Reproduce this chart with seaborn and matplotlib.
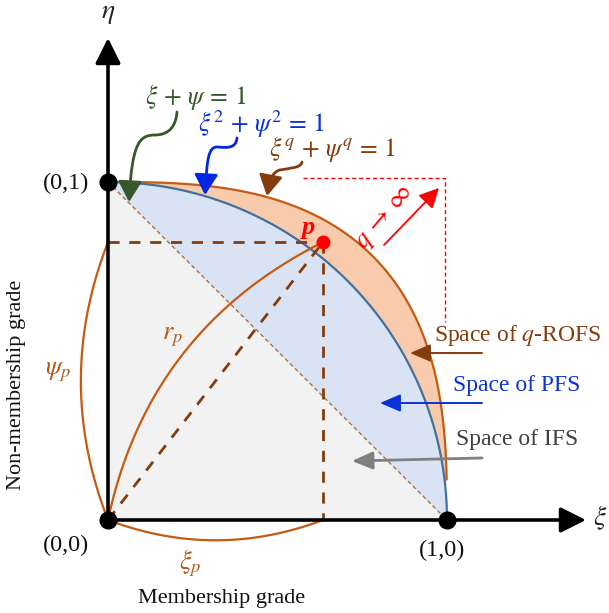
import numpy as np
import matplotlib
matplotlib.use("Agg")
import matplotlib.pyplot as plt
import seaborn as sns
import pandas as pd
from matplotlib.path import Path
from matplotlib.patches import FancyArrowPatch, Polygon

# ---------------- data ----------------
q_value = 2.8                      # exponent of the q-ROFS boundary
p_xi, p_eta = 0.634, 0.822         # membership / non-membership of point p
corner_xi = [0, 1, 0]
corner_eta = [0, 0, 1]
corner_labels = ["(0,0)", "(1,0)", "(0,1)"]
region_labels = ["Space of $q$-ROFS", "Space of PFS", "Space of IFS"]
eq_labels = [r"$\xi\,+\,\psi\,=\,1$", r"$\xi^2\,+\,\psi^2\,=\,1$", r"$\xi^q\,+\,\psi^q\,=\,1$"]
axis_titles = ["Membership grade", "Non-membership grade"]

# ---------------- style ----------------
sns.set_theme(style="white")
plt.rcParams['font.family'] = ['Liberation Serif', 'DejaVu Serif']
plt.rcParams['mathtext.fontset'] = 'stix'

BROWN = '#843c0c'
ORANGE = '#c55a11'
BLUE_LINE = '#41719c'
GREEN = '#38572a'
BLUE_TXT = '#0b33d6'
LBL = '#b05a1c'

fig = plt.figure(figsize=(6.09, 6.13), dpi=100)
ax = fig.add_axes([0, 0, 1, 1])
ax.set_xlim(-108 / 339, 501 / 339)
ax.set_ylim(-93 / 338, 520 / 338)
ax.axis('off')


def P(x, y):
    return ((x - 108) / 339, (520 - y) / 338)


# ---------------- regions ----------------
theta = np.linspace(0, np.pi / 2, 300)
circ = pd.DataFrame({"xi": np.cos(theta), "eta": np.sin(theta)})

t_min = 0.12 ** (q_value / 2)
t = np.linspace(np.arcsin(t_min), np.pi / 2, 300)
qcurve = pd.DataFrame({"xi": np.cos(t) ** (2 / q_value), "eta": np.sin(t) ** (2 / q_value)})

ax.add_patch(Polygon([(0, 0), (1, 0), (0, 1)], closed=True, fc='#f2f2f2', ec='none', zorder=1))
ax.add_patch(Polygon(circ[["xi", "eta"]].values, closed=True, fc='#dae3f3', ec='none', zorder=1))
th_back = np.linspace(np.pi / 2, np.arcsin(0.09), 300)
orange_poly = np.vstack([qcurve[["xi", "eta"]].values,
                         np.c_[np.cos(th_back), np.sin(th_back)]])
ax.add_patch(Polygon(orange_poly, closed=True, fc='#f8cbad', ec='none', zorder=1))

sns.lineplot(data=qcurve, x="xi", y="eta", sort=False, ax=ax, color=ORANGE, lw=1.6, zorder=3)
sns.lineplot(data=circ, x="xi", y="eta", sort=False, ax=ax, color=BLUE_LINE, lw=1.6, zorder=3)

# diagonal xi + psi = 1
ax.plot([0, 1], [1, 0], color='#a9704d', lw=1.0, dashes=(3, 2), zorder=2)

# projections of p
for xs, ys in [([0, p_xi], [p_eta, p_eta]), ([p_xi, p_xi], [p_eta, 0]), ([0, p_xi], [0, p_eta])]:
    ax.plot(xs, ys, color=BROWN, lw=2.0, dashes=(4, 3.5), zorder=4)


def qbez(a, b, offset, n=100):
    a = np.asarray(a, float)
    b = np.asarray(b, float)
    d = b - a
    nrm = np.array([-d[1], d[0]]) / np.hypot(*d)
    c = (a + b) / 2 + nrm * offset
    s = np.linspace(0, 1, n)[:, None]
    return (1 - s) ** 2 * a + 2 * (1 - s) * s * c + s ** 2 * b


for a, b, off in [((0, 0), (p_xi, p_eta), 0.25),
                  ((0, 0), (0, p_eta), 0.16),
                  ((0, 0), (p_xi, 0), -0.12)]:
    pts = qbez(a, b, off)
    ax.plot(pts[:, 0], pts[:, 1], color=ORANGE, lw=1.6, zorder=4, clip_on=False)

ax.text(*P(58, 372), r"$\psi_p$", color=LBL, fontsize=19, ha='center', va='center')
ax.text(*P(172, 337), r"$r_p$", color=LBL, fontsize=19, ha='center', va='center')
ax.text(*P(190, 563), r"$\xi_p$", color=LBL, fontsize=19, ha='center', va='center')

# ---------------- axes ----------------
arrow_kw = dict(arrowstyle='-|>,head_length=0.7,head_width=0.35', lw=2.6, color='black',
                mutation_scale=22, shrinkA=0, shrinkB=0)
ax.annotate('', xy=P(586, 520), xytext=P(108, 520), arrowprops=arrow_kw, zorder=6)
ax.annotate('', xy=P(108, 38), xytext=P(108, 520), arrowprops=arrow_kw, zorder=6)
ax.text(*P(600, 518), r"$\xi$", fontsize=20, ha='center', va='center')
ax.text(*P(108, 14), r"$\eta$", fontsize=20, ha='center', va='center')

ax.plot(corner_xi, corner_eta, 'o', color='black', ms=12, zorder=8, clip_on=False)
for lab, pos in zip(corner_labels, [P(66, 545), P(442, 550), P(66, 183)]):
    ax.text(*pos, lab, fontsize=17.5, ha='center', va='center', color='#111111')

# point p
ax.plot([p_xi], [p_eta], 'o', color='red', ms=9, zorder=9)
ax.text(*P(308, 227), "p", color='red', fontsize=19, fontstyle='italic', fontweight='bold',
        ha='center', va='center')

# q -> infinity
ax.plot([P(303, 178)[0], P(445, 178)[0], P(445, 178)[0]],
        [P(303, 178)[1], P(445, 178)[1], P(445, 322)[1]],
        color='red', lw=1.0, dashes=(3, 2), zorder=3)
ax.annotate('', xy=P(439, 188), xytext=P(384, 245),
            arrowprops=dict(arrowstyle='-|>,head_length=0.6,head_width=0.3', lw=1.3,
                            color='red', mutation_scale=20, shrinkA=0, shrinkB=0))
ax.text(*P(386, 218), r"$q\,\rightarrow\,\infty$", color='red', fontsize=19, rotation=50,
        ha='center', va='center')

# region labels and arrows
reg_cols = [BROWN, BLUE_TXT, '#404040']
arr_cols = [BROWN, BLUE_TXT, '#7f7f7f']
reg_lw = [1.4, 1.4, 2.0]
reg_txt_pos = [P(518, 335), P(517, 386), P(517, 440)]
reg_arr = [(P(482, 353), P(410, 353)), (P(482, 403), P(380, 403)), (P(482, 458), P(352, 461))]
for lab, c, ac, lw, tp, (s, e) in zip(region_labels, reg_cols, arr_cols, reg_lw, reg_txt_pos, reg_arr):
    ax.text(*tp, lab, color=c, fontsize=17, ha='center', va='center')
    ax.annotate('', xy=e, xytext=s,
                arrowprops=dict(arrowstyle='-|>,head_length=0.7,head_width=0.3', lw=lw,
                                color=ac, mutation_scale=18, shrinkA=0, shrinkB=0), zorder=7)

# equations with wavy arrows
eq_cols = [GREEN, BLUE_TXT, BROWN]
eq_pos = [P(196, 104), P(261, 132), P(332, 156)]
for lab, c, pos in zip(eq_labels, eq_cols, eq_pos):
    ax.text(*pos, lab, color=c, fontsize=18.5, ha='center', va='baseline')

wavy = [
    [(177, 112), (176, 125), (170, 135), (155, 135), (140, 135), (132, 142), (129, 202)],
    [(237, 138), (236, 148), (228, 148), (218, 147), (208, 146), (207, 160), (205, 195)],
    [(302, 162), (301, 168), (290, 168), (280, 170), (272, 172), (270, 180), (267, 196)],
]
for verts, c in zip(wavy, [GREEN, '#0026e6', BROWN]):
    vv = [P(*v) for v in verts]
    codes = [Path.MOVETO] + [Path.CURVE4] * 6
    ax.add_patch(FancyArrowPatch(path=Path(vv, codes),
                                 arrowstyle='-|>,head_length=0.7,head_width=0.4',
                                 mutation_scale=18, lw=2.0, color=c, zorder=7))

# axis titles
ax.text(*P(222, 598), axis_titles[0], fontsize=16, ha='center', va='center', color='#111111')
ax.text(*P(17, 385), axis_titles[1], fontsize=16, ha='center', va='center', rotation=90,
        color='#111111')

fig.savefig("out.png", dpi=100)
